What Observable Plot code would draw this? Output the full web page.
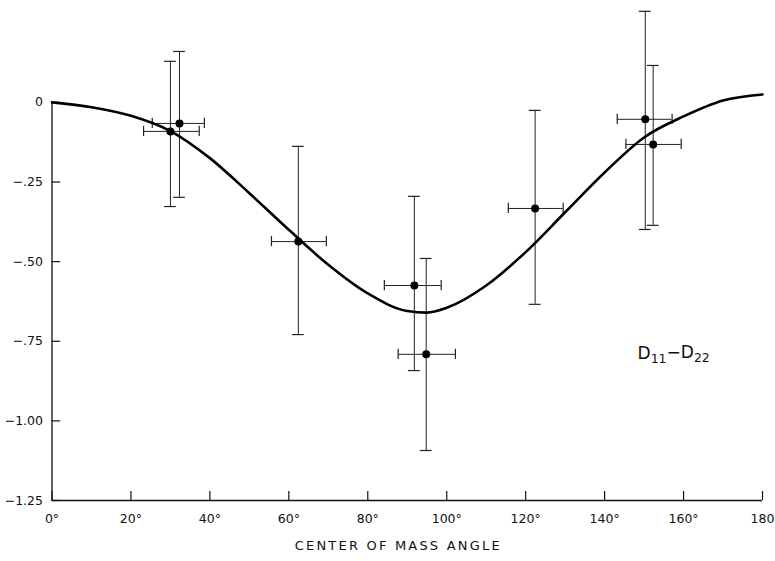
<!DOCTYPE html>
<html><head><meta charset="utf-8">
<script src="https://cdn.jsdelivr.net/npm/d3@7"></script>
<script src="https://cdn.jsdelivr.net/npm/@observablehq/plot@0.6"></script>
<style>body{margin:0;background:#fff;} svg{display:block;}</style>
</head><body><div id="chart"></div>
<script>
// measured points (center of mass angle, D11-D22)
const pointAngle = [30.0, 32.3, 62.4, 91.8, 94.8, 122.4, 150.3, 152.3];
const pointValue = [-0.091, -0.066, -0.437, -0.575, -0.791, -0.333, -0.053, -0.132];
const angleLow  = [23.2, 25.4, 55.6, 84.2, 87.7, 115.6, 143.2, 145.4];
const angleHigh = [37.3, 38.6, 69.5, 98.6, 102.2, 129.5, 157.1, 159.4];
const valueHigh = [0.129, 0.160, -0.138, -0.295, -0.490, -0.025, 0.286, 0.116];
const valueLow  = [-0.327, -0.298, -0.729, -0.842, -1.093, -0.634, -0.399, -0.386];
// theoretical curve
const curveAngle = [0, 10, 20, 30, 40, 50, 60, 70, 80, 90, 95, 100, 110, 120, 130, 140, 150, 160, 170, 180];
const curveValue = [0, -0.015, -0.042, -0.09, -0.175, -0.285, -0.40, -0.51, -0.60, -0.655, -0.66, -0.645, -0.575, -0.47, -0.345, -0.22, -0.11, -0.044, 0.006, 0.025];
// axes
const xTicks = [0, 20, 40, 60, 80, 100, 120, 140, 160, 180];
const xTickLabels = ["0°", "20°", "40°", "60°", "80°", "100°", "120°", "140°", "160°", "180"];
const yTicks = [0, -0.25, -0.5, -0.75, -1.0, -1.25];
const yTickLabels = ["0", "−.25", "−.50", "−.75", "−1.00", "−1.25"];
const xTitle = "CENTER OF MASS ANGLE";
const seriesLabelParts = [["D", false], ["11", true], ["−D", false], ["22", true]];
const seriesLabel = seriesLabelParts.map(p => p[0]).join("");
const seriesLabelPos = {x: 157.5, y: -0.79};

const pts = pointAngle.map((a, i) => ({a, v: pointValue[i], alo: angleLow[i], ahi: angleHigh[i], vlo: valueLow[i], vhi: valueHigh[i]}));
const curve = curveAngle.map((a, i) => ({a, v: curveValue[i]}));
const xt = xTicks.map((t, i) => ({t, label: xTickLabels[i]}));
const yt = yTicks.map((t, i) => ({t, label: yTickLabels[i]}));
const yMin = -1.25, yAxisTop = 0;
const capX = 1.5;      // half-width of vertical bar caps (deg)
const capY = 0.016;    // half-height of horizontal bar caps (value)
const tickLenX = 0.028, tickLenY = 2.2;
const font = "DejaVu Sans, sans-serif";

const chart = Plot.plot({
  width: 775, height: 561,
  marginLeft: 51.5, marginRight: 13, marginTop: 0, marginBottom: 61,
  x: {domain: [0, 180], axis: null},
  y: {domain: [yMin, 0.32], axis: null},
  style: {fontFamily: font, background: "#fff"},
  marks: [
    // axis lines
    Plot.ruleY([yMin], {x1: 0, x2: 180, stroke: "#111", strokeWidth: 1.3}),
    Plot.ruleX([0], {y1: yMin, y2: yAxisTop, stroke: "#111", strokeWidth: 1.3}),
    // inward ticks
    Plot.ruleX(xt, {x: "t", y1: yMin, y2: yMin + tickLenX, stroke: "#111", strokeWidth: 1.2}),
    Plot.ruleY(yt, {y: "t", x1: 0, x2: tickLenY, stroke: "#111", strokeWidth: 1.2}),
    // tick labels
    Plot.text(xt, {x: "t", y: yMin, text: "label", dy: 18, fontSize: 12.5, fill: "#111"}),
    Plot.text(yt, {x: 0, y: "t", text: "label", dx: -9, textAnchor: "end", fontSize: 12.5, fill: "#111"}),
    Plot.text([xTitle], {text: d => d, frameAnchor: "bottom", dy: 49, dx: -9, fontSize: 13, fill: "#111"}),
    // error bars
    Plot.ruleX(pts, {x: "a", y1: "vlo", y2: "vhi", stroke: "#222", strokeWidth: 1}),
    Plot.ruleY(pts, {y: "v", x1: "alo", x2: "ahi", stroke: "#222", strokeWidth: 1}),
    Plot.ruleY(pts, {y: "vlo", x1: d => d.a - capX, x2: d => d.a + capX, stroke: "#222", strokeWidth: 1.2}),
    Plot.ruleY(pts, {y: "vhi", x1: d => d.a - capX, x2: d => d.a + capX, stroke: "#222", strokeWidth: 1.2}),
    Plot.ruleX(pts, {x: "alo", y1: d => d.v - capY, y2: d => d.v + capY, stroke: "#222", strokeWidth: 1.2}),
    Plot.ruleX(pts, {x: "ahi", y1: d => d.v - capY, y2: d => d.v + capY, stroke: "#222", strokeWidth: 1.2}),
    // curve
    Plot.line(curve, {x: "a", y: "v", curve: "monotone-x", stroke: "#000", strokeWidth: 2.6}),
    // points
    Plot.dot(pts, {x: "a", y: "v", r: 4, fill: "#000", stroke: "none"}),
    // series label
    Plot.text([seriesLabel], {x: seriesLabelPos.x, y: seriesLabelPos.y, text: d => d, fontSize: 17, fill: "#111"})
  ]
});
const svg = d3.select(chart);
svg.selectAll("text").filter(function(){ return this.textContent === xTitle; }).attr("letter-spacing", "2.2px");
svg.selectAll("text").filter(function(){ return this.textContent === seriesLabel; }).each(function(){
  const t = d3.select(this);
  t.text(null);
  for (const [s, sub] of seriesLabelParts) {
    const sp = t.append("tspan").text(s);
    if (sub) sp.attr("font-size", 12.5).attr("dy", "0.3em");
    else sp.attr("dy", s === "D" ? null : "-0.3em");
  }
});
document.getElementById("chart").appendChild(chart);
</script>
</body></html>
